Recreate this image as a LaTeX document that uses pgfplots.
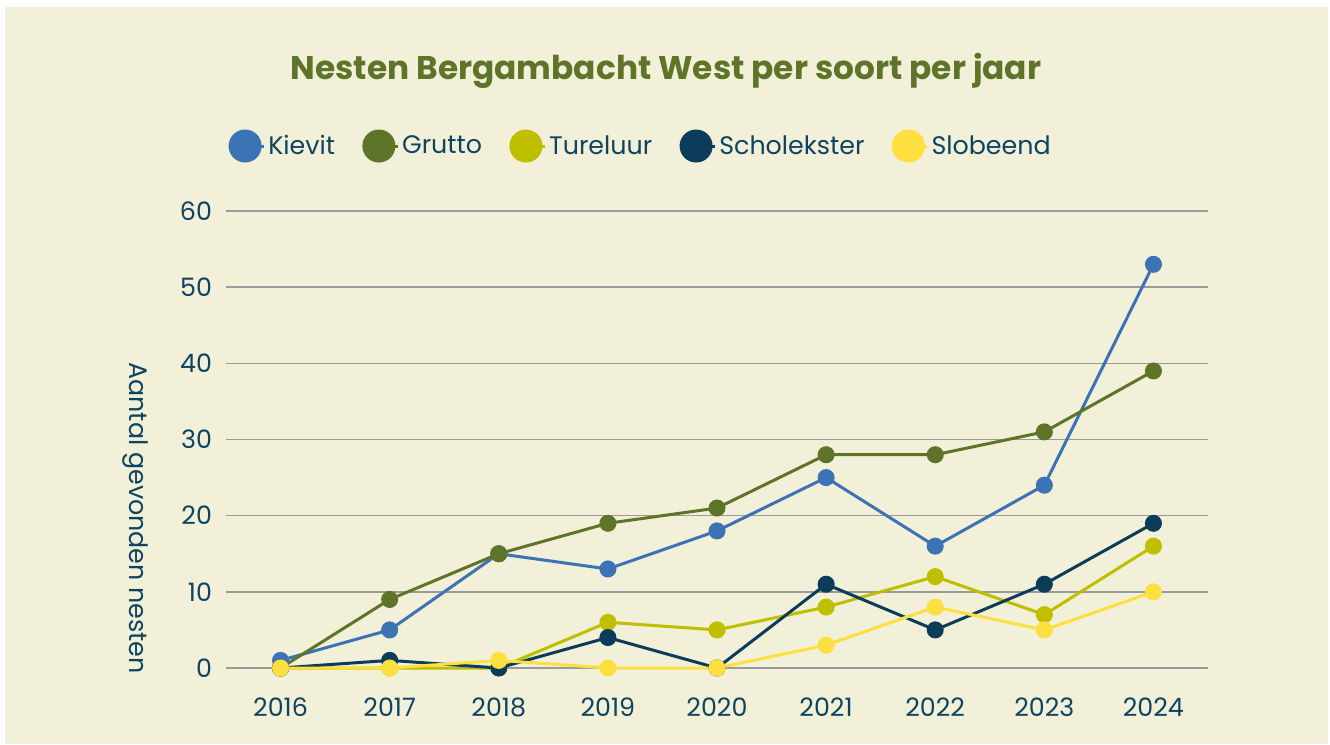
\documentclass[border=0pt]{standalone}
\usepackage{pgfplots}
\pgfplotsset{compat=1.18}
\usepackage{fontspec}
\setmainfont{Poppins}
\definecolor{cream}{HTML}{F2F0D8}
\definecolor{txt}{HTML}{0E4461}
\definecolor{ttl}{HTML}{5E7428}
\definecolor{ckievit}{HTML}{3C73B4}
\definecolor{cgrutto}{HTML}{5E7428}
\definecolor{ctur}{HTML}{BFBF00}
\definecolor{cschol}{HTML}{0B3C5A}
\definecolor{cslob}{HTML}{FDE03F}
\definecolor{gridc}{HTML}{9A9A9A}
\newcommand{\fs}{\fontsize{19}{23}\selectfont}
\begin{document}
\begin{tikzpicture}
\fill[white] (0,0) rectangle (997.5pt,558pt);
\fill[cream] (3.75pt,0) rectangle (996pt,552.75pt);
\node[text=ttl,font={\fontsize{24.6}{30}\selectfont\bfseries}] at (499.5pt,504.5pt) {Nesten Bergambacht West per soort per jaar};
\begin{axis}[
  at={(169.5pt,57pt)}, anchor=south west,
  scale only axis, width=736.5pt, height=342.75pt,
  xmin=2015.5, xmax=2024.5, ymin=0, ymax=60,
  xtick={2016,...,2024}, ytick={0,10,...,60},
  axis line style={draw=none}, tick style={draw=none},
  ymajorgrids, grid style={gridc, line width=1.1pt},
  xticklabel={\pgfmathprintnumber[1000 sep={}]{\tick}},
  /pgf/number format/assume math mode=true,
  /pgf/number format/1000 sep={},
  ticklabel style={font=\fs, text=txt},
  yticklabel style={xshift=-7pt},
  xticklabel style={yshift=-19pt},
  clip=false,
  every axis plot/.append style={line width=2.25pt, mark=*, mark size=5.25pt},
  legend columns=5,
  legend style={draw=none, fill=none, at={(0.4226,1.1422)}, anchor=center, font=\fs, text=txt,
    /tikz/every even column/.append style={column sep=18.5pt}},
  legend image code/.code={\path (0,0) -- (25.5pt,0); \fill (11.25pt,0) circle (11.25pt);},
]
\addplot[color=ckievit] coordinates {(2016,1)(2017,5)(2018,15)(2019,13)(2020,18)(2021,25)(2022,16)(2023,24)(2024,53)};
\addlegendentry{Kievit}
\addplot[color=cgrutto] coordinates {(2016,0)(2017,9)(2018,15)(2019,19)(2020,21)(2021,28)(2022,28)(2023,31)(2024,39)};
\addlegendentry{Grutto}
\addplot[color=ctur] coordinates {(2016,0)(2017,0)(2018,0)(2019,6)(2020,5)(2021,8)(2022,12)(2023,7)(2024,16)};
\addlegendentry{Tureluur}
\addplot[color=cschol] coordinates {(2016,0)(2017,1)(2018,0)(2019,4)(2020,0)(2021,11)(2022,5)(2023,11)(2024,19)};
\addlegendentry{Scholekster}
\addplot[color=cslob] coordinates {(2016,0)(2017,0)(2018,1)(2019,0)(2020,0)(2021,3)(2022,8)(2023,5)(2024,10)};
\addlegendentry{Slobeend}
\node[rotate=-90, font=\fs, text=txt] at (rel axis cs:-0.0927,0.328) {Aantal gevonden nesten};
\end{axis}
\end{tikzpicture}
\end{document}
